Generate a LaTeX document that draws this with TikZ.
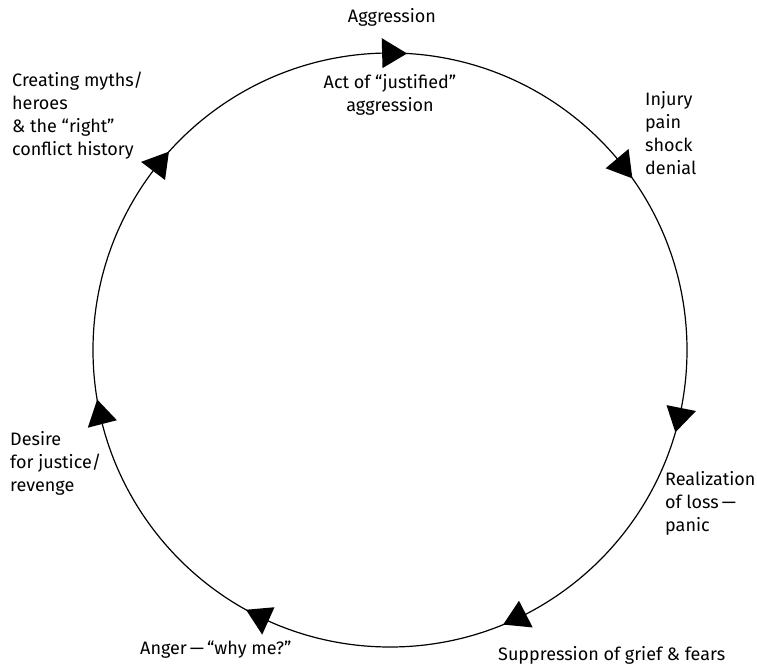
\documentclass[tikz,border=0pt]{standalone}
\usepackage{fontspec}
\setmainfont{Fira Sans}
\begin{document}
\begin{tikzpicture}[x=1pt,y=1pt,
  lbl/.style={inner sep=0pt, font=\fontsize{18}{23}\selectfont},
  lblL/.style={lbl, align=left, anchor=west},
  ring/.style={line width=1.2pt},
  tri/.style={fill=black, draw=none}]
\useasboundingbox (-390,-316) rectangle (367,350);
\draw[ring] (0,0) circle (297);
\foreach \t in {86.7,35.3,-16.1,-67.6,-119,-170.4,-221.9}{
  \fill[tri] (\t:297) -- (\t+4.82:312) -- (\t+4.82:282) -- cycle;
}
\node[lbl] (aggr) at (2,333) {Aggression};
\node[lbl, align=center] (act) at (0,255) {Act of “justified”\\aggression};
\node[lblL] (inj) at (255,217) {Injury\\pain\\shock\\denial};
\node[lblL] (real) at (275,-153) {Realization\\of loss\,—\\panic};
\node[lbl, anchor=west] (supp) at (108,-305) {Suppression of grief \& fears};
\node[lbl, anchor=west] (ang) at (-250,-300) {Anger\,—\,“why me?”};
\node[lblL] (des) at (-380,-113) {Desire\\for justice/\\revenge};
\node[lblL] (myth) at (-378,234) {Creating myths/\\heroes\\\& the “right”\\conflict history};
\end{tikzpicture}
\end{document}
